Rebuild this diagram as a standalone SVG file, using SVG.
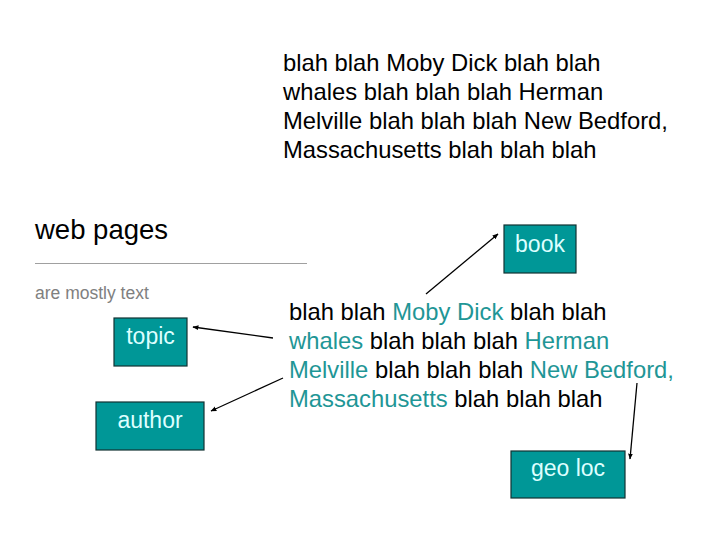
<svg xmlns="http://www.w3.org/2000/svg" width="720" height="540" viewBox="0 0 720 540">
<style>
text{font-family:"Liberation Sans",Arial,sans-serif}
.para{font-size:23.8px;fill:#000}
.hl{fill:#1f9696}
.box{fill:#009797;stroke:#113333;stroke-width:1.2}
.lbl{font-size:23px;fill:#ddffff;text-anchor:middle}
.conn{stroke:#000;stroke-width:1.3;fill:none;marker-end:url(#ah)}
</style>
<defs>
<marker id="ah" viewBox="0 0 10 10" refX="9" refY="5" markerWidth="6" markerHeight="6" markerUnits="userSpaceOnUse" orient="auto">
<path d="M0,1 L10,5 L0,9 z" fill="#000"/>
</marker>
</defs>
<rect width="720" height="540" fill="#fff"/>
<g id="top-text" class="para">
<text class="para" x="283" y="71">blah blah Moby Dick blah blah</text>
<text class="para" x="283" y="100">whales blah blah blah Herman</text>
<text class="para" x="283" y="129">Melville blah blah blah New Bedford,</text>
<text class="para" x="283" y="158">Massachusetts blah blah blah</text>
</g>
<g id="title">
<text x="35" y="239" style="font-size:27.5px;fill:#000">web pages</text>
<line x1="35" y1="263.5" x2="307" y2="263.5" stroke="#a0a0a0" stroke-width="1"/>
<text x="35" y="299" style="font-size:17.5px;fill:#808080">are mostly text</text>
</g>
<g id="bottom-text">
<text class="para" x="289" y="320">blah blah <tspan class="hl">Moby Dick</tspan> blah blah</text>
<text class="para" x="289" y="349"><tspan class="hl">whales</tspan> blah blah blah <tspan class="hl">Herman</tspan></text>
<text class="para" x="289" y="378"><tspan class="hl">Melville</tspan> blah blah blah <tspan class="hl">New Bedford,</tspan></text>
<text class="para" x="289" y="407"><tspan class="hl">Massachusetts</tspan> blah blah blah</text>
</g>
<g id="topic">
<rect class="box" x="114" y="318" width="73" height="48"/>
<text class="lbl" x="150.5" y="344">topic</text>
</g>
<g id="author">
<rect class="box" x="96" y="402" width="108" height="48"/>
<text class="lbl" x="150" y="428">author</text>
</g>
<g id="book">
<rect class="box" x="504" y="225" width="72" height="48"/>
<text class="lbl" x="540" y="252">book</text>
</g>
<g id="geoloc">
<rect class="box" x="511" y="451" width="114" height="47"/>
<text class="lbl" x="568" y="476">geo loc</text>
</g>
<g id="connectors">
<line class="conn" x1="273" y1="338" x2="193" y2="327"/>
<line class="conn" x1="283" y1="378" x2="211" y2="411"/>
<line class="conn" x1="426" y1="294" x2="498" y2="234"/>
<line class="conn" x1="637" y1="383" x2="630" y2="459"/>
</g>
</svg>
